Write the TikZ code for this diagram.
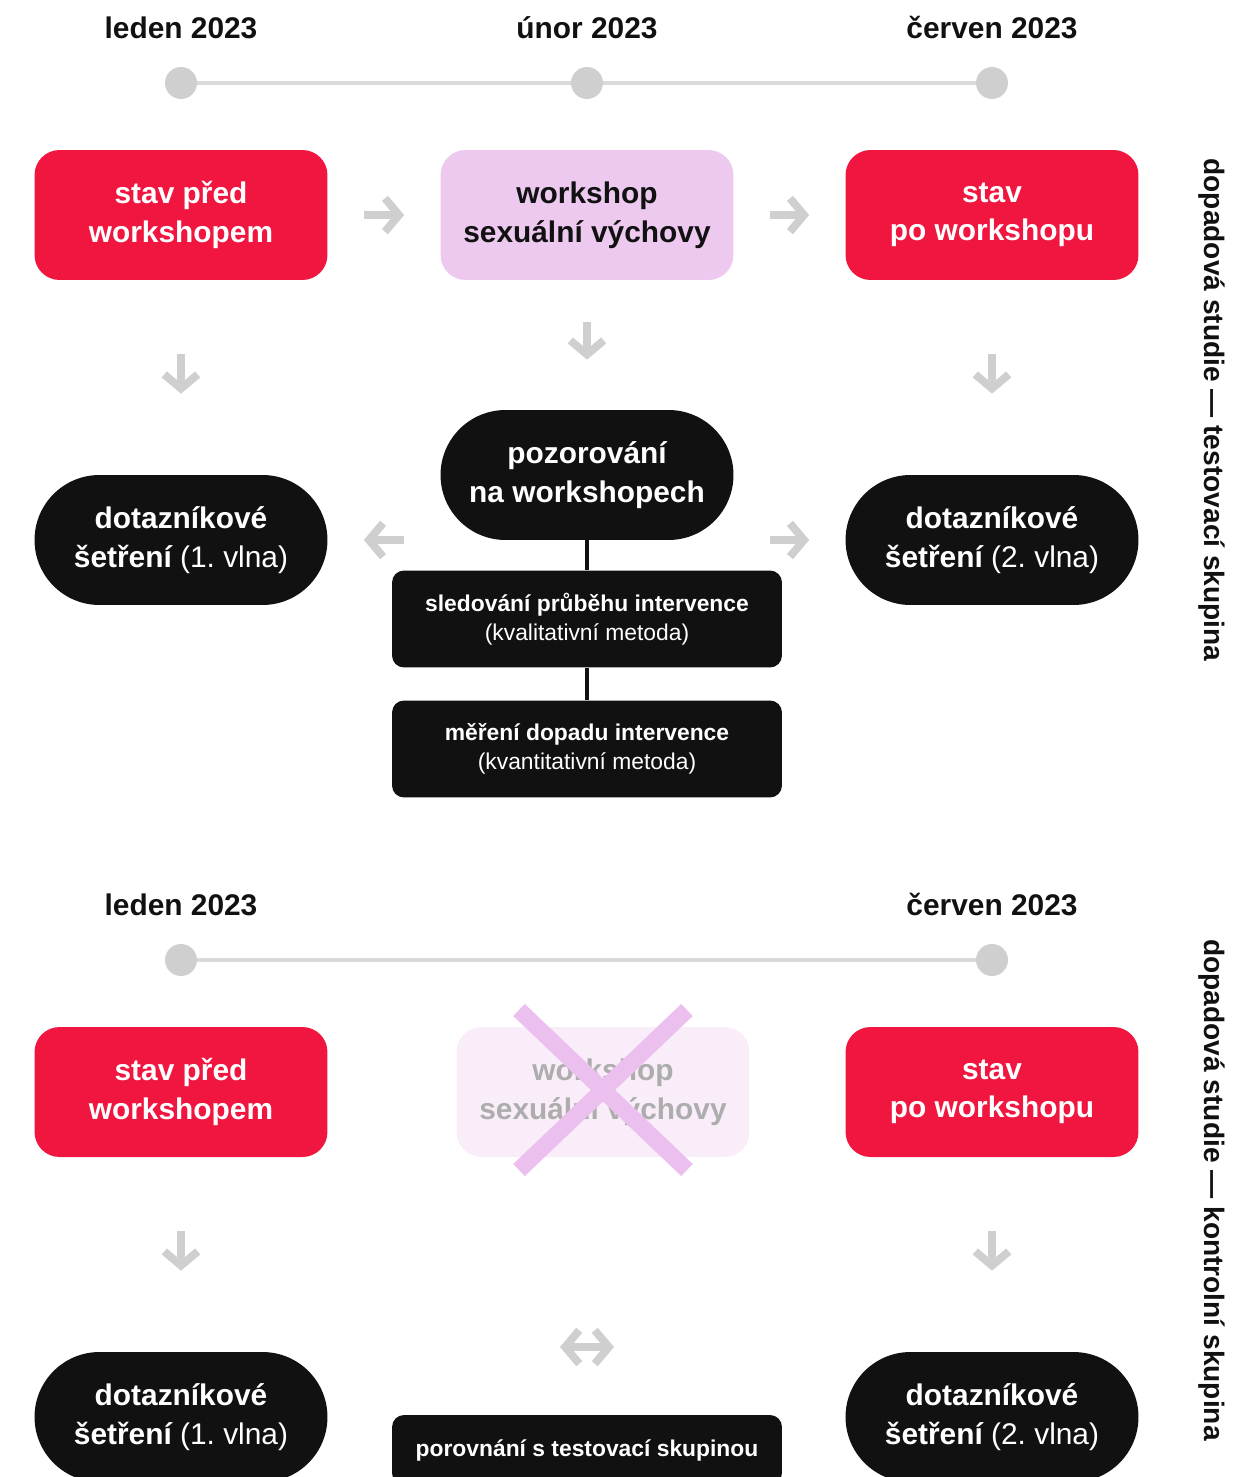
\documentclass[tikz,border=0pt]{standalone}
\usepackage{fontspec}
\setmainfont{Liberation Sans}
\usetikzlibrary{calc, arrows.meta}
\frenchspacing

\definecolor{wred}{RGB}{240,22,64}
\definecolor{wpink}{RGB}{237,201,240}
\definecolor{wpale}{RGB}{249,237,250}
\definecolor{wblack}{RGB}{17,17,17}
\definecolor{wgrey}{RGB}{207,207,207}
\definecolor{wline}{RGB}{218,218,218}
\definecolor{wcross}{RGB}{236,192,238}

\begin{document}
\begin{tikzpicture}[x=0.02cm, y=-0.02cm]
    \tikzstyle{redbox} = [rectangle, rounded corners=.5cm, fill=wred, text=white,
        minimum width=5.86cm, minimum height=2.6cm, align=center,
        font=\fontsize{17}{22}\selectfont\bfseries]
    \tikzstyle{pinkbox} = [redbox, fill=wpink, text=wblack]
    \tikzstyle{ghostbox} = [redbox, fill=wpale, text=black!32]
    \tikzstyle{pill} = [redbox, rounded corners=1.3cm, fill=wblack]
    \tikzstyle{method} = [rectangle, rounded corners=.24cm, fill=wblack, text=white,
        minimum width=7.8cm, minimum height=1.94cm, align=center,
        font=\fontsize{13}{16.5}\selectfont\bfseries]
    \tikzstyle{dot} = [circle, fill=wgrey, minimum size=.64cm, inner sep=0pt]
    \tikzstyle{date} = [font=\fontsize{17}{22}\selectfont\bfseries, text=wblack]
    \tikzstyle{side} = [rotate=-90, font=\fontsize{16}{20}\selectfont\bfseries, text=wblack]
    \tikzstyle{garrow} = [draw=wgrey, line width=4.5pt,
        -{Straight Barb[length=8pt, width=19pt]}]
    \tikzstyle{link} = [draw=wblack, line width=2.3pt]

    \useasboundingbox (0,0) rectangle (1249,1477);
    \clip (0,0) rectangle (1249,1477);

    % Test group: timeline ------------------------------
    \node (t1) at (181, 83) [dot] {};
    \node (t2) at ($(t1) + (406, 0)$) [dot] {};
    \node (t3) at ($(t2) + (405, 0)$) [dot] {};
    \draw[wline, line width=2.8pt] (t1) -- (t2) -- (t3);
    \node (d1) at ($(t1) + (0, -55)$) [date] {leden 2023};
    \node (d2) at ($(t2) + (0, -55)$) [date] {únor 2023};
    \node (d3) at ($(t3) + (0, -55)$) [date] {červen 2023};

    % Test group: boxes ---------------------------------
    \node (A1) at (181, 215) [redbox] {stav před\\workshopem};
    \node (A2) at ($(A1) + (406, 0)$) [pinkbox] {workshop\\sexuální výchovy};
    \node (A3) at ($(A2) + (405, 0)$) [redbox] {stav\\po workshopu};

    \node (B1) at ($(A1) + (0, 325)$) [pill] {dotazníkové\\šetření \mdseries(1. vlna)};
    \node (B2) at ($(A2) + (0, 260)$) [pill] {pozorování\\na workshopech};
    \node (B3) at ($(A3) + (0, 325)$) [pill] {dotazníkové\\šetření \mdseries(2. vlna)};

    \node (M1) at (587, 619) [method] {sledování průběhu intervence\\\mdseries(kvalitativní metoda)};
    \node (M2) at ($(M1) + (0, 130)$) [method] {měření dopadu intervence\\\mdseries(kvantitativní metoda)};

    \draw[link] (B2) -- (M1);
    \draw[link] (M1) -- (M2);

    \draw[garrow, shorten <=.72cm, shorten >=.72cm] (A1) -- (A2);
    \draw[garrow, shorten <=.72cm, shorten >=.72cm] (A2) -- (A3);
    \draw[garrow, shorten <=1.48cm, shorten >=1.62cm] (A1) -- (B1);
    \draw[garrow, shorten <=.84cm, shorten >=1.0cm] (A2) -- (B2);
    \draw[garrow, shorten <=1.48cm, shorten >=1.62cm] (A3) -- (B3);
    \draw[garrow, shorten <=.72cm, shorten >=.72cm] (B2.west |- B1.east) -- (B1.east);
    \draw[garrow, shorten <=.72cm, shorten >=.72cm] (B2.east |- B3.west) -- (B3.west);

    \node (S1) at (1212, 410) [side] {dopadová studie — testovací skupina};

    % Control group: timeline ---------------------------
    \node (u1) at (181, 960) [dot] {};
    \node (u3) at ($(u1) + (811, 0)$) [dot] {};
    \draw[wline, line width=2.8pt] (u1) -- (u3);
    \node (e1) at ($(u1) + (0, -55)$) [date] {leden 2023};
    \node (e3) at ($(u3) + (0, -55)$) [date] {červen 2023};

    % Control group: boxes ------------------------------
    \node (C1) at (181, 1092) [redbox] {stav před\\workshopem};
    \node (C2) at ($(C1) + (422, 0)$) [ghostbox] {workshop\\sexuální výchovy};
    \node (C3) at ($(C1) + (811, 0)$) [redbox] {stav\\po workshopu};

    % crossed out workshop
    \draw[wcross, line width=9.5pt] ($(C2) + (-84, -82)$) -- ($(C2) + (84, 78)$);
    \draw[wcross, line width=9.5pt] ($(C2) + (84, -82)$) -- ($(C2) + (-84, 78)$);

    \node (D1) at ($(C1) + (0, 325)$) [pill] {dotazníkové\\šetření \mdseries(1. vlna)};
    \node (D3) at ($(C3) + (0, 325)$) [pill] {dotazníkové\\šetření \mdseries(2. vlna)};
    \node (K) at (587, 1450) [method, minimum height=1.4cm] {porovnání s testovací skupinou};

    \draw[garrow, shorten <=1.48cm, shorten >=1.62cm] (C1) -- (D1);
    \draw[garrow, shorten <=1.48cm, shorten >=1.62cm] (C3) -- (D3);

    \coordinate (kl) at ($(K) + (-27, -103)$);
    \coordinate (kr) at ($(K) + (27, -103)$);
    \draw[garrow, {Straight Barb[length=8pt, width=19pt]}-{Straight Barb[length=8pt, width=19pt]}] (kl) -- (kr);

    \node (S2) at (1212, 1190) [side] {dopadová studie — kontrolní skupina};
\end{tikzpicture}
\end{document}
